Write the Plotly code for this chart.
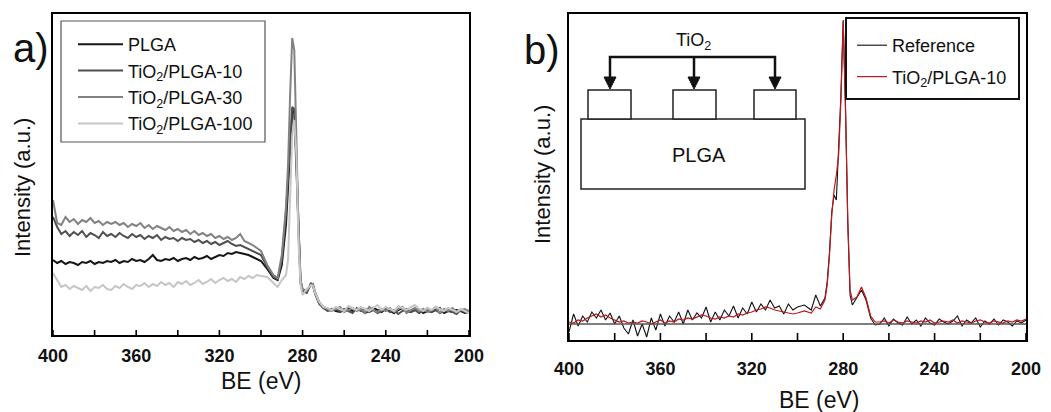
import plotly.graph_objects as go

# ---------------- DATA ----------------
# Panel a) binding energies (eV)
be_a = ([400 - 2 * i for i in range(51)]
        + [297, 294, 292, 290, 288, 287, 286, 285, 284, 283, 282, 281, 280, 278, 276, 275, 274, 272, 270, 268]
        + [266 - 2 * i for i in range(34)])

plga = [75, 72, 74, 71, 73, 72, 70, 73, 72, 74, 71, 73, 72, 74, 73,
        75, 72, 74, 73, 76, 74, 75, 73, 76, 80, 75, 74, 76, 75, 77, 74,
        76, 77, 75, 78, 76, 77, 79, 76, 78, 80, 79, 82, 81, 83, 82, 81, 80, 78, 76, 74,
        66, 57, 55, 70, 110, 150, 190, 222, 225, 170, 100, 55, 44, 43, 51, 50, 42, 32, 27, 25,
        26, 24, 23, 25, 27, 24, 26, 25, 22, 24, 27, 25, 23, 26, 24, 22, 25, 27, 24, 23,
        25, 26, 22, 24, 23, 25, 27, 22, 24, 23, 25, 24, 22, 23]

tio2_plga_10 = [118, 108, 101, 104, 99, 103, 100, 104, 98, 102, 100, 97, 103, 99, 101,
                98, 102, 99, 97, 101, 98, 100, 96, 99, 97, 100, 95, 98, 96, 97, 94,
                97, 95, 96, 93, 95, 92, 94, 91, 93, 90, 92, 94, 91, 89, 90, 88, 86, 84, 82, 80,
                68, 58, 56, 75, 122, 160, 200, 228, 226, 180, 105, 52, 44, 42, 52, 49, 41, 31, 27, 24,
                25, 27, 23, 26, 24, 22, 27, 24, 26, 23, 25, 22, 24, 26, 23, 25, 21, 24, 26, 23,
                25, 22, 24, 27, 23, 25, 22, 24, 26, 23, 21, 25, 23, 24]

tio2_plga_30 = [135, 112, 110, 118, 113, 116, 111, 115, 113, 117, 112, 114, 110, 113, 111,
                113, 110, 112, 108, 111, 109, 112, 107, 110, 106, 109, 107, 105, 108, 104, 106,
                103, 105, 101, 104, 100, 102, 99, 101, 97, 99, 96, 98, 95, 97, 101, 94, 92, 90, 87, 84,
                70, 60, 57, 80, 128, 170, 240, 297, 285, 190, 110, 55, 46, 44, 50, 51, 43, 33, 28, 26,
                24, 26, 28, 23, 25, 27, 24, 26, 22, 28, 25, 23, 26, 24, 27, 23, 26, 28, 22, 25,
                27, 24, 26, 23, 25, 28, 22, 26, 24, 27, 23, 25, 26, 24]

tio2_plga_100 = [62, 55, 48, 50, 46, 49, 47, 45, 49, 44, 48, 47, 50, 46, 45,
                 49, 47, 51, 48, 46, 50, 49, 52, 48, 51, 49, 53, 50, 52, 48, 53,
                 51, 54, 50, 52, 55, 51, 53, 56, 52, 55, 57, 54, 56, 53, 58, 56, 59, 57, 60, 59,
                 58, 52, 48, 55, 60, 75, 130, 200, 215, 180, 95, 50, 40, 46, 50, 49, 42, 33, 28, 27,
                 25, 28, 26, 24, 29, 27, 25, 28, 26, 24, 27, 30, 25, 28, 26, 24, 29, 27, 25, 28,
                 30, 26, 24, 27, 25, 28, 26, 24, 27, 25, 23, 26, 24, 22]

# Panel b) binding energies (eV)
be_b = ([400 - 2 * i for i in range(51)]
        + [297, 294, 292, 290, 288, 287, 286, 285, 284, 283, 282, 281, 280, 279, 278, 277, 276, 274, 272, 270,
           268, 266]
        + [264 - 2 * i for i in range(33)])

reference = [8, 26, 14, 24, 18, 28, 22, 30, 20, 27, 16, 24, 12, 6, 20,
             4, 16, 3, 22, 10, 26, 14, 24, 18, 28, 16, 30, 20, 27, 22, 33,
             18, 28, 20, 30, 24, 34, 22, 32, 26, 38, 28, 36, 30, 40, 32, 34, 26, 36, 30, 33,
             35, 30, 45, 34, 42, 58, 88, 128, 145, 140, 190, 245, 320, 235, 118, 45, 35, 42, 50, 40, 22, 15,
             16, 22, 14, 21, 17, 15, 23, 16, 20, 14, 22, 17, 15, 21, 18, 16, 19, 24, 14, 20,
             17, 22, 13, 19, 16, 21, 15, 20, 18, 14, 19, 17, 20]

tio2_plga_10_b = [18, 17, 20, 19, 22, 24, 26, 23, 25, 22, 20, 18, 19, 17, 18,
                  17, 19, 18, 16, 18, 20, 17, 19, 18, 21, 20, 22, 21, 23, 25, 24,
                  22, 21, 23, 22, 24, 23, 26, 25, 27, 28, 30, 31, 33, 32, 30, 29, 28, 27, 26, 27,
                  29, 27, 33, 31, 40, 55, 85, 125, 150, 165, 185, 240, 318, 230, 120, 50, 40, 43, 53, 42, 24, 18,
                  18, 19, 17, 20, 18, 17, 19, 18, 17, 19, 18, 20, 17, 18, 19, 18, 20, 17, 19, 18,
                  17, 19, 20, 18, 17, 19, 18, 17, 19, 18, 20, 19, 21]

baseline_b = 16

y_range_a = [0, 321]
y_range_b = [0, 326]

x_tick_vals = [400, 380, 360, 340, 320, 300, 280, 260, 240, 220, 200]
x_tick_text = ["400", "", "360", "", "320", "", "280", "", "240", "", "200"]

# ---------------- FIGURE ----------------
# The page body has an 8px margin; the figure is sized to fit the window exactly.
OFF = 8
W, H = 1051 - OFF, 412 - OFF
FONT = "Arial, 'Liberation Sans', sans-serif"


def fx(x):
    return (x - OFF) / W


def fy(y):
    return 1 - (y - OFF) / H


fig = go.Figure()

series_a = [
    ("PLGA", plga, "#161616"),
    ("TiO<sub>2</sub>/PLGA-10", tio2_plga_10, "#4f4f4f"),
    ("TiO<sub>2</sub>/PLGA-30", tio2_plga_30, "#828282"),
    ("TiO<sub>2</sub>/PLGA-100", tio2_plga_100, "#c6c6c6"),
]
for name, vals, col in series_a:
    fig.add_trace(go.Scatter(x=be_a, y=vals, mode="lines", name=name,
                             line=dict(color=col, width=2),
                             xaxis="x", yaxis="y", legend="legend"))

fig.add_trace(go.Scatter(x=be_b, y=reference, mode="lines", name="Reference",
                         line=dict(color="#111111", width=1.1),
                         xaxis="x2", yaxis="y2", legend="legend2", legendgroup="ref"))
fig.add_trace(go.Scatter(x=be_b, y=tio2_plga_10_b, mode="lines", name="TiO<sub>2</sub>/PLGA-10",
                         line=dict(color="#c0161e", width=1.2),
                         xaxis="x2", yaxis="y2", legend="legend2", legendgroup="t10"))


def xaxis_style(dom, pad):
    # outward ticks are transparent and only set the label distance
    return dict(domain=dom, range=[400, 200], showline=True, linecolor="black", linewidth=2,
                mirror=True, showgrid=False, zeroline=False,
                tickmode="array", tickvals=x_tick_vals, ticktext=x_tick_text,
                ticks="outside", ticklen=pad, tickwidth=1, tickcolor="rgba(0,0,0,0)",
                tickfont=dict(size=18, weight="bold", family=FONT, color="#111"))


def yaxis_style(dom, rng):
    return dict(domain=dom, range=rng, showline=True, linecolor="black", linewidth=2,
                mirror=True, showgrid=False, zeroline=False, showticklabels=False, ticks="")


dom_ya = [fy(335), fy(14)]
dom_yb = [fy(340), fy(14)]

fig.update_layout(
    width=W, height=H,
    margin=dict(l=0, r=0, t=0, b=0, autoexpand=False),
    paper_bgcolor="white", plot_bgcolor="white",
    font=dict(family=FONT, color="#111"),
    xaxis=dict(anchor="y", **xaxis_style([fx(53), fx(469)], 3)),
    yaxis=dict(anchor="x", **yaxis_style(dom_ya, y_range_a)),
    xaxis2=dict(anchor="y2", **xaxis_style([fx(569), fx(1026)], 11)),
    yaxis2=dict(anchor="x2", **yaxis_style(dom_yb, y_range_b)),
    legend=dict(x=fx(73), y=fy(26), xanchor="left", yanchor="top",
                bgcolor="rgba(0,0,0,0)", borderwidth=0,
                font=dict(size=18, family=FONT, color="#111"),
                itemwidth=45),
    legend2=dict(x=fx(852), y=fy(27), xanchor="left", yanchor="top",
                 bgcolor="rgba(0,0,0,0)", borderwidth=0,
                 font=dict(size=18, family=FONT, color="#111"),
                 itemwidth=30, traceorder="grouped", tracegroupgap=5),
)

# Inward tick marks at every 20 eV, placed on the data x scale
for xr, yr, dom, length_px in [("x", "y domain", dom_ya, 5), ("x2", "y2 domain", dom_yb, 7)]:
    frac = length_px / ((dom[1] - dom[0]) * H)
    for v in x_tick_vals:
        fig.add_shape(type="line", xref=xr, yref=yr, x0=v, x1=v, y0=0, y1=frac,
                      line=dict(color="black", width=1.6), layer="above")

# Legend frames
fig.add_shape(type="rect", xref="paper", yref="paper", x0=fx(61), x1=fx(265), y0=fy(142), y1=fy(21),
              line=dict(color="#555", width=1.2), fillcolor="white", layer="below")
fig.add_shape(type="rect", xref="paper", yref="paper", x0=fx(846), x1=fx(1019), y0=fy(99), y1=fy(18),
              line=dict(color="#111", width=2), fillcolor="white", layer="above")

# Panel labels and axis titles
ann = [
    dict(text="a)", x=fx(31), y=fy(48), font=dict(size=40)),
    dict(text="b)", x=fx(542), y=fy(50), font=dict(size=40)),
    dict(text="BE (eV)", x=fx(261), y=fy(381), font=dict(size=23)),
    dict(text="BE (eV)", x=fx(819), y=fy(400), font=dict(size=23)),
    dict(text="Intensity (a.u.)", x=fx(23), y=fy(188), font=dict(size=22), textangle=-90),
    dict(text="Intensity (a.u.)", x=fx(543), y=fy(175), font=dict(size=22), textangle=-90),
    dict(text="TiO<sub>2</sub>", x=fx(693), y=fy(42), font=dict(size=18)),
    dict(text="PLGA", x=fx(699), y=fy(155), font=dict(size=20)),
]
for a in ann:
    a.update(xref="paper", yref="paper", showarrow=False, xanchor="center", yanchor="middle")
    a["font"].update(family=FONT, color="#111")
    fig.add_annotation(**a)

# Inset schematic (panel b)
shape_line = dict(color="#222", width=1.5)
fig.add_shape(type="rect", xref="paper", yref="paper", x0=fx(581), x1=fx(805), y0=fy(189), y1=fy(119),
              line=shape_line, fillcolor="white", layer="above")
for x0, x1 in [(588, 631), (673, 716), (754, 796)]:
    fig.add_shape(type="rect", xref="paper", yref="paper", x0=fx(x0), x1=fx(x1), y0=fy(119), y1=fy(90),
                  line=shape_line, fillcolor="white", layer="above")

bar = (f"M{fx(610)},{fy(79)} L{fx(610)},{fy(57)} L{fx(775)},{fy(57)} L{fx(775)},{fy(79)} "
       f"M{fx(694)},{fy(57)} L{fx(694)},{fy(79)}")
fig.add_shape(type="path", xref="paper", yref="paper", path=bar, line=dict(color="#111", width=2.5))
for xc in (610, 694, 775):
    tri = f"M{fx(xc - 6)},{fy(77)} L{fx(xc + 6)},{fy(77)} L{fx(xc)},{fy(89)} Z"
    fig.add_shape(type="path", xref="paper", yref="paper", path=tri,
                  line=dict(color="#111", width=1), fillcolor="#111")

# Baseline in panel b
fig.add_shape(type="line", xref="x2 domain", yref="y2", x0=0, x1=1, y0=baseline_b, y1=baseline_b,
              line=dict(color="#555", width=1.5))

fig.write_html("out.html")
